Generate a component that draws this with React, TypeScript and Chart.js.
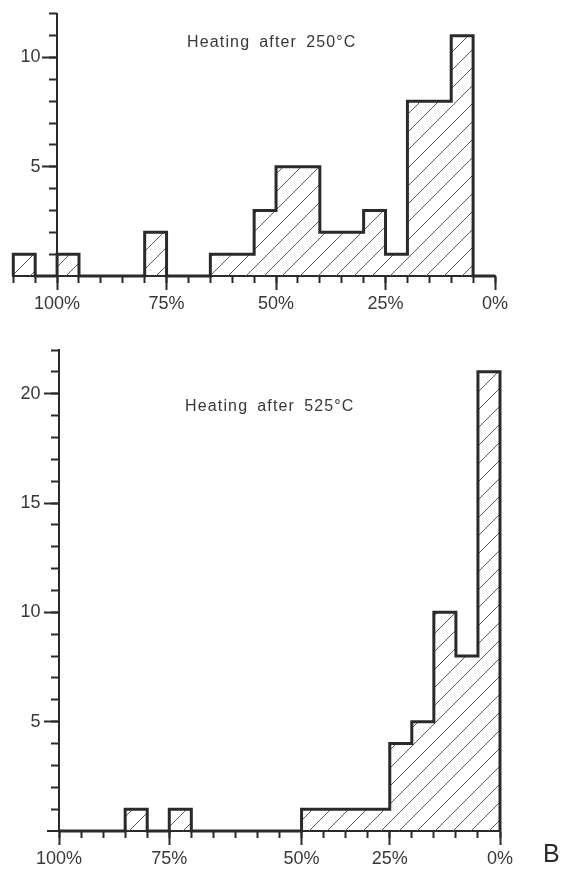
import React, { useEffect, useRef } from "react";
import { Chart, registerables } from "chart.js";

Chart.register(...registerables);

// ---------- Top panel: "Heating after 250°C" ----------
// Each bin is 5% wide; the number is the upper (left-hand) edge of the bin.
const TOP_BIN_START = [110, 105, 100, 95, 90, 85, 80, 75, 70, 65, 60, 55, 50, 45, 40, 35, 30, 25, 20, 15, 10, 5];
const TOP_COUNTS = [1, 0, 1, 0, 0, 0, 2, 0, 0, 1, 1, 3, 5, 5, 2, 2, 3, 1, 8, 8, 11, 0];
const TOP_X_LABEL_AT = [100, 75, 50, 25, 0];
const TOP_X_LABELS = ["100%", "75%", "50%", "25%", "0%"];
const TOP_Y_LABEL_AT = [5, 10];
const TOP_TITLE = "Heating after 250°C";

// ---------- Bottom panel: "Heating after 525°C" ----------
const BOTTOM_BIN_START = [100, 95, 90, 85, 80, 75, 70, 65, 60, 55, 50, 45, 40, 35, 30, 25, 20, 15, 10, 5];
const BOTTOM_COUNTS = [0, 0, 0, 1, 0, 1, 0, 0, 0, 0, 0, 1, 1, 1, 1, 4, 5, 10, 8, 21];
const BOTTOM_X_LABEL_AT = [100, 75, 45, 25, 0];
const BOTTOM_X_LABELS = ["100%", "75%", "50%", "25%", "0%"];
const BOTTOM_Y_LABEL_AT = [5, 10, 15, 20];
const BOTTOM_TITLE = "Heating after 525°C";
const PANEL_LETTER = "B";

const BIN_WIDTH = 5;
const Y_AXIS_AT = 100;
const INK = "#2a2a2a";
const TEXT = "#383838";
const FONT = "'Liberation Sans', Arial, sans-serif";

function makeHatch(): CanvasPattern | string {
  const p = 18;
  const c = document.createElement("canvas");
  c.width = p;
  c.height = p;
  const g = c.getContext("2d");
  if (!g) return "rgba(0,0,0,0.1)";
  g.strokeStyle = "#5a5a5a";
  g.lineWidth = 1;
  for (let k = -1; k <= 1; k++) {
    g.beginPath();
    g.moveTo(k * p, p);
    g.lineTo(k * p + p, 0);
    g.stroke();
  }
  return g.createPattern(c, "repeat") || "rgba(0,0,0,0.1)";
}

function outlinePoints(starts: number[], counts: number[]) {
  const pts: { x: number; y: number }[] = [{ x: starts[0], y: 0 }];
  starts.forEach((s, i) => pts.push({ x: s, y: counts[i] }));
  pts.push({ x: starts[starts.length - 1] - BIN_WIDTH, y: 0 });
  return pts;
}

function range(a: number, b: number, step: number) {
  const out: number[] = [];
  for (let v = a; v <= b + 1e-9; v += step) out.push(v);
  return out;
}

type PanelProps = {
  width: number;
  height: number;
  starts: number[];
  counts: number[];
  xMax: number;
  yMax: number;
  xLabelAt: number[];
  xLabels: string[];
  yLabelAt: number[];
  yLabelAxisX: number;
  padding: { top: number; bottom: number; left: number; right: number };
};

function Panel(props: PanelProps) {
  const ref = useRef<HTMLCanvasElement | null>(null);
  useEffect(() => {
    const canvas = ref.current;
    if (!canvas) return;
    const { starts, counts, xMax, yMax, xLabelAt, xLabels, yLabelAt, yLabelAxisX, padding } = props;
    const minorX = range(0, starts[0], BIN_WIDTH);
    const minorY = range(1, yMax, 1);
    const chart = new Chart(canvas, {
      type: "line",
      data: {
        datasets: [
          {
            data: outlinePoints(starts, counts),
            stepped: true,
            fill: "origin",
            backgroundColor: makeHatch() as any,
            borderColor: INK,
            borderWidth: 3,
            borderJoinStyle: "miter",
            pointRadius: 0,
            tension: 0,
            clip: false as any,
            xAxisID: "x",
            yAxisID: "y",
          },
        ],
      },
      options: {
        animation: false,
        responsive: false,
        events: [],
        layout: { padding },
        plugins: { legend: { display: false }, tooltip: { enabled: false }, title: { display: false } },
        scales: {
          x: {
            type: "linear",
            reverse: true,
            min: 0,
            max: xMax,
            position: { y: 0 } as any,
            afterBuildTicks: (s: any) => {
              s.ticks = xLabelAt.map((v) => ({ value: v }));
            },
            ticks: {
              autoSkip: false,
              maxRotation: 0,
              padding: 4,
              color: TEXT,
              font: { family: FONT, size: 18 },
              callback: (v: any) => {
                const i = xLabelAt.indexOf(Number(v));
                return i >= 0 ? xLabels[i] : "";
              },
            },
            grid: { drawOnChartArea: false, drawTicks: true, tickLength: 13, tickWidth: 2, tickColor: INK },
            border: { display: true, color: INK, width: 2 },
          },
          x2: {
            type: "linear",
            axis: "x",
            reverse: true,
            min: 0,
            max: xMax,
            position: { y: 0 } as any,
            afterBuildTicks: (s: any) => {
              s.ticks = minorX.map((v) => ({ value: v }));
            },
            ticks: { display: false },
            grid: { drawOnChartArea: false, drawTicks: true, tickLength: 7, tickWidth: 2, tickColor: INK },
            border: { display: false },
          },
          y: {
            type: "linear",
            min: 0,
            max: yMax,
            position: { x: Y_AXIS_AT } as any,
            afterBuildTicks: (s: any) => {
              s.ticks = yLabelAt.map((v) => ({ value: v }));
            },
            ticks: { display: false },
            grid: { drawOnChartArea: false, drawTicks: true, tickLength: 14, tickWidth: 2, tickColor: INK },
            border: { display: true, color: INK, width: 2 },
          },
          y2: {
            type: "linear",
            axis: "y",
            min: 0,
            max: yMax,
            position: { x: Y_AXIS_AT } as any,
            afterBuildTicks: (s: any) => {
              s.ticks = minorY.map((v) => ({ value: v }));
            },
            ticks: { display: false },
            grid: { drawOnChartArea: false, drawTicks: true, tickLength: 8, tickWidth: 2, tickColor: INK },
            border: { display: false },
          },
          yLabels: {
            type: "linear",
            axis: "y",
            min: 0,
            max: yMax,
            position: { x: yLabelAxisX } as any,
            afterBuildTicks: (s: any) => {
              s.ticks = yLabelAt.map((v) => ({ value: v }));
            },
            ticks: {
              color: TEXT,
              font: { family: FONT, size: 18 },
              callback: (v: any) => String(v),
            },
            grid: { display: false },
            border: { display: false },
          },
        },
      } as any,
    });
    return () => chart.destroy();
  }, []);
  return <canvas ref={ref} width={props.width} height={props.height} style={{ display: "block", width: props.width, height: props.height }} />;
}

const titleStyle: React.CSSProperties = {
  position: "absolute",
  fontFamily: FONT,
  fontSize: 16,
  lineHeight: "16px",
  letterSpacing: "1.15px",
  wordSpacing: "3.5px",
  color: TEXT,
  whiteSpace: "nowrap",
};

export default function App() {
  return (
    <div style={{ position: "absolute", left: 0, top: 0, width: 562, height: 870, background: "#fff", overflow: "hidden" }}>
      <div style={{ position: "absolute", left: 0, top: 0 }}>
        <Panel
          width={562}
          height={325}
          starts={TOP_BIN_START}
          counts={TOP_COUNTS}
          xMax={110}
          yMax={12}
          xLabelAt={TOP_X_LABEL_AT}
          xLabels={TOP_X_LABELS}
          yLabelAt={TOP_Y_LABEL_AT}
          yLabelAxisX={103.8}
          padding={{ top: 13.5, bottom: 49, left: 13.3, right: 67 }}
        />
      </div>
      <div style={{ position: "absolute", left: 0, top: 330 }}>
        <Panel
          width={562}
          height={540}
          starts={BOTTOM_BIN_START}
          counts={BOTTOM_COUNTS}
          xMax={102.5}
          yMax={22}
          xLabelAt={BOTTOM_X_LABEL_AT}
          xLabels={BOTTOM_X_LABELS}
          yLabelAt={BOTTOM_Y_LABEL_AT}
          yLabelAxisX={104.2}
          padding={{ top: 20, bottom: 39, left: 48, right: 62 }}
        />
      </div>
      <div style={{ ...titleStyle, left: 187, top: 34 }}>{TOP_TITLE}</div>
      <div style={{ ...titleStyle, left: 185, top: 398 }}>{BOTTOM_TITLE}</div>
      <div
        style={{
          position: "absolute",
          left: 543,
          top: 841,
          fontFamily: FONT,
          fontSize: 25,
          lineHeight: "25px",
          color: INK,
        }}
      >
        {PANEL_LETTER}
      </div>
    </div>
  );
}
